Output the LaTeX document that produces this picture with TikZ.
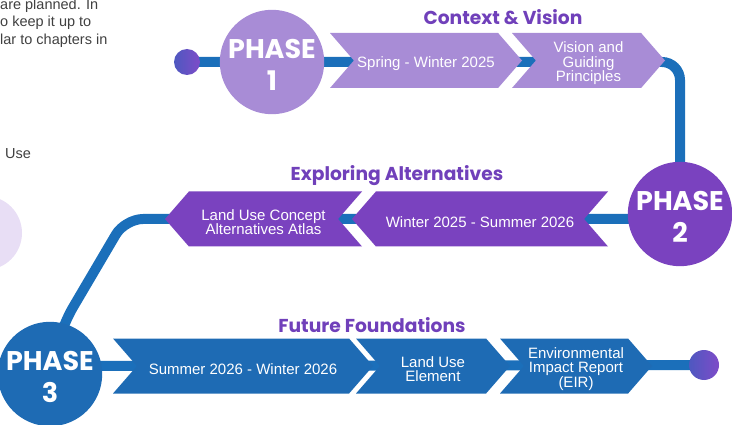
\documentclass[tikz,border=0pt]{standalone}
\usepackage{fontspec}
\setmainfont{Liberation Sans}
\newfontfamily\headfont{Poppins}
\usepackage{xcolor}
\usetikzlibrary{shapes.symbols,backgrounds}

\definecolor{lilac}{HTML}{A88CD6}
\definecolor{violet}{HTML}{7A42BF}
\definecolor{deepblue}{HTML}{1E6BB4}
\definecolor{roadblue}{HTML}{1B6FBA}
\definecolor{headpurple}{HTML}{7040BA}
\definecolor{notegray}{HTML}{404040}
\definecolor{paleviolet}{HTML}{E8DEF5}
\definecolor{dotleft}{HTML}{4E58C0}
\definecolor{dotright}{HTML}{7E4CC8}

% pushes the text of a node a little lower
\newcommand{\liftby}[1]{\rule{0pt}{#1}}
\newcommand{\ph}[1]{\liftby{25pt}PHASE\\#1}
\newcommand{\ct}{\liftby{17pt}}

\begin{document}
\begin{tikzpicture}[x=1pt,y=-1pt,
			phase/.style={circle, minimum size=104pt, inner sep=0pt, text=white, align=center,
				font=\headfont\bfseries\fontsize{27}{32}\selectfont},
			chevron/.style={signal, signal pointer angle=98, minimum height=55pt, inner sep=0pt,
				text=white, align=center, font=\fontsize{15}{14.5}\selectfont},
			fwd/.style={chevron, signal to=east, signal from=west},
			bwd/.style={chevron, signal to=west, signal from=east},
			heading/.style={text=headpurple, font=\headfont\bfseries\fontsize{18.7}{22}\selectfont},
			note/.style={anchor=base west, inner sep=0pt, text=notegray, font=\fontsize{14.5}{17}\selectfont},
			road/.style={draw=roadblue, line width=10pt, rounded corners=18pt},
			enddot/.style={circle, inner sep=0pt, left color=dotleft, right color=dotright}]
			\useasboundingbox (0,0) rectangle (732,425);
			\clip (0,0) rectangle (732,425);
			% text cut off on the left
			\node[note] (n1) at (0,10) {are planned. In};
			\node[note] (n2) at (0,27) {o keep it up to};
			\node[note] (n3) at (0,45) {lar to chapters in};
			\node[note] (n4) at (5,159) {Use};
			\fill[paleviolet] (-15,233) circle (37);
			% phase 1
			\node[enddot, minimum size=26pt] (dot1) at (187,62) {};
			\node[phase, fill=lilac] (ph1) at (272,62) {\ph{1}};
			\node[fwd, fill=lilac, minimum width=192pt] (c1a) at (426,60.5) {\ct Spring - Winter 2025};
			\node[fwd, fill=lilac, minimum width=153pt] (c1b) at (588.5,60.5) {\ct Vision and\\Guiding\\Principles};
			\node[heading] (t1) at (503,17) {Context \& Vision};
			\coordinate (bendA) at (680,62);
			% phase 2
			\node[phase, fill=violet, minimum size=102pt] (ph2) at (680,214) {\ph{2}};
			\node[bwd, fill=violet, minimum width=256pt] (c2a) at (480,219) {\ct Winter 2025 - Summer 2026};
			\node[bwd, fill=violet, minimum width=197pt] (c2b) at (263.5,219) {\ct Land Use Concept\\Alternatives Atlas};
			\node[heading] (t2) at (397,176) {Exploring Alternatives};
			\coordinate (bendB) at (125,219);
			% phase 3
			\node[phase, fill=deepblue] (ph3) at (50,374) {\ph{3}};
			\node[fwd, fill=deepblue, minimum width=260pt] (c3a) at (243,366) {\ct Summer 2026 - Winter 2026};
			\node[fwd, fill=deepblue, minimum width=154pt] (c3b) at (433,366) {\ct Land Use\\Element};
			\node[fwd, fill=deepblue, minimum width=152pt] (c3c) at (576,366) {\ct Environmental\\Impact Report\\(EIR)};
			\node[heading] (t3) at (372,325) {Future Foundations};
			\node[enddot, minimum size=30pt] (dot2) at (704,365) {};
			\begin{pgfonlayer}{background}
			\draw[road] (dot1.center) -- (bendA) -- (ph2.center)
				-- (ph2.center |- c2a.center) -- (bendB) -- (ph3.75) -- (ph3.center)
				-- (ph3.center |- c3a.center) -- (dot2.center);
			\end{pgfonlayer}
		\end{tikzpicture}
\end{document}
